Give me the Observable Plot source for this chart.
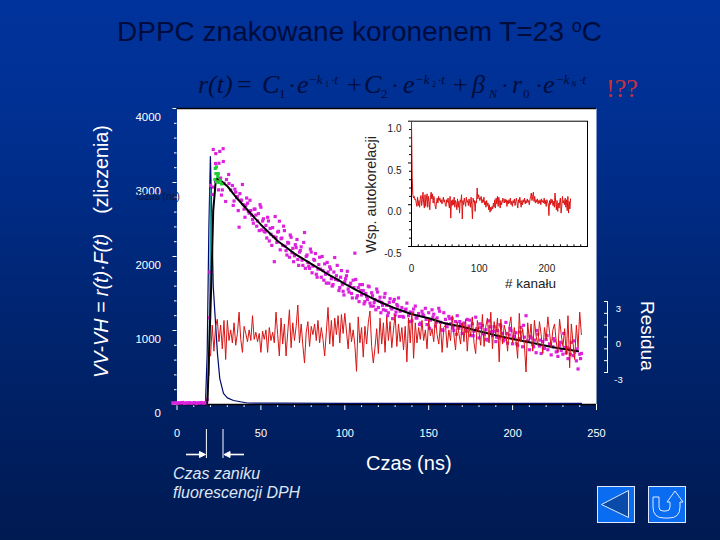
<!DOCTYPE html>
<html><head><meta charset="utf-8">
<script src="https://cdn.jsdelivr.net/npm/d3@7"></script>
<script src="https://cdn.jsdelivr.net/npm/@observablehq/plot@0.6"></script>
<style>
html,body{margin:0;padding:0;background:#001a55}
#page{position:relative;width:720px;height:540px;overflow:hidden;background:linear-gradient(180deg,#00339c 0%,#002f90 25%,#00246f 60%,#001a52 100%);font-family:"Liberation Sans",Arial,sans-serif}
#page svg{position:absolute;left:0;top:0}
</style></head><body><div id="page"></div>
<script>
// Main panel
const xMajor=[0,50,100,150,200,250];
const xMinor=[10,20,30,40,60,70,80,90,110,120,130,140,160,170,180,190,210,220,230,240];
const yMajor=[0,1000,2000,3000,4000];
const yMinor=[200,400,600,800,1200,1400,1600,1800,2200,2400,2600,2800,3200,3400,3600,3800];
const fitT=[18,18.3,20.5,21.6,23,23.5,26,30,36,45,50,60,70,80,90,95.5,100,110,115,120,130,140,150,160,170,180,185,190,200,210,224,239];
const fitC=[20,120,1680,2620,3000,3050,3027,2950,2780,2554,2430,2210,2040,1900,1760,1690,1630,1510,1450,1395,1300,1220,1165,1095,1050,990,963,935,885,840,775,720];
const irfT=[-2,16,17,18,19,19.9,20.5,21.6,22.3,24.1,25.5,27.7,30,33.7,41.8,60,100,150,200,241];
const irfC=[15,18,30,700,2400,3350,2800,1600,1340,690,350,150,90,54,20,18,16,16,15,15];
const riseT=[19,19.9,20];
const riseC=[400,2000,2900];
const baseT=[-2.5,-1.5,-0.5,0.5,1.5,2.5,3.5,4.5,5.5,6.5,7.5,8.5,9.5,10.5,11.5,12.5,13.5,14.5,15.5,16.5,17];
const baseC=[22,18,25,16,24,20,28,15,22,19,25,17,21,26,14,23,20,27,18,22,24];
const riseDotT=[18,19.4,19.6,20,21,21.8,21.6,23.1,25.5,27.5,23,25,27.6,30.8,24.7,26.5,27,29,23,26,28,29.5];
const riseDotC=[68,1171,1788,2960,2838,2937,3446,3390,3420,3457,3257,3260,3284,3108,2900,2830,2900,2743,3020,3060,2990,3040];
const decayT0=31;
const decayC=[2985,2900,2960,2750,2870,2810,2396,2760,2973,2640,
2690,2720,2585,2620,2500,2640,2560,2480,2350,2666,
2480,2340,2420,2530,2210,2300,2390,1930,2260,2330,
2477,2240,2150,2350,2080,2190,1990,2260,2110,2010,
2120,1960,2060,2130,1880,2324,2000,1920,1840,2060,
1870,1950,1760,1830,1990,1720,1810,1900,1640,1790,
1860,1700,1620,1986,1740,1680,1580,1810,1530,1660,
1740,1560,1610,1500,1680,2045,1440,1580,1620,1480,
1540,1390,1460,1600,1370,1510,1330,1420,1560,1310,
1450,1380,1280,1500,1340,1240,1430,1290,1390,1210,
1350,1440,1260,1310,1180,1280,1370,1200,1250,1130,
1290,1330,1170,1230,1100,1260,1200,1300,1080,1240,
1140,1280,1220,1060,1170,1300,1110,1010,1240,1150,
1050,1190,1090,1160,1000,1120,1200,1030,1080,960,
1100,1020,1150,1060,930,1090,990,1180,1020,900,
1040,1070,950,1010,870,1130,980,930,1050,850,
1000,900,1060,960,880,1110,830,940,1000,820,
920,970,800,890,1040,780,910,1200,860,740,
900,810,870,700,950,790,690,850,760,880,
740,820,670,780,860,710,650,800,730,680,
770,700,620,750,840,660,710,590,480,680,690];
// second read of the dense part of the cloud, half a channel later
const denseT0=33.5;
const denseC=[2690,2910,2800,2620,2850,2760,2700,2530,2790,2610,
2760,2560,2450,2640,2410,2580,2700,2360,2510,2330,
2250,2480,2380,2150,2270,2540,2190,2340,2090,2250,
2410,2140,2020,2180,2290,2050,1930,2160,2230,1880,
2080,1950,2190,1840,2020,1870,2100,1780,1960,2040,
1720,1890,1830,2000,1680,1760,1920,1640,1830,1600,
1790,1690,1880,1540,1720,1620,1480,1700,1800,1520,
1640,1440,1580,1690,1470,1390,1540,1620,1360,1500,
1420,1590,1330,1470,1380,1280,1520,1400,1240,1340,
1450,1270,1200,1380,1310,1160,1420,1250,1330,1190];
const tailT0=134.5;
const tailStep=2;
const tailC=[1190,1290,1120,1240,1170,1080,1220,1150,1030,1180,
1110,1260,1000,1090,1160,1040,950,1120,1060,990,
1140,930,1020,1090,960,880,1050,990,910,1080,
860,960,1030,900,820,980,1070,850,920,780,
1000,870,760,930,810,890,720,840,960,770,
680,860,750,620];
const greenT=[22.8,23.2,22.6,23.6,24.3,25,25.8,23.5,26.6,24.6];
const greenC=[3190,3120,3040,3010,3080,3000,3030,3210,2980,3120];
// Residuals
const resT0=20;
const resV=[-1.6,1.0,-1.2,0.9,1.5,-0.4,1.0,-1.0,1.4,-1.9,
1.4,-0.3,0.6,-0.5,1.2,-0.7,0.3,2.1,-0.2,-1.3,
0.9,0.3,-0.4,0.6,-0.3,1.8,-0.2,0.4,-0.4,0.3,
-1.3,0.5,-0.2,0.6,-1.3,0.8,-0.3,0.4,-0.5,2.1,
0.2,-1.6,1.6,-0.6,1.1,-1.6,0.4,2.3,-0.9,1.2,
-0.3,0.9,2.7,-0.5,1.1,-0.7,-2.2,0.4,1.3,-0.8,
0.9,0.2,1.1,-0.3,1.4,-0.5,0.8,-0.2,-1.6,0.4,
2.5,-0.6,1.4,-0.8,1.6,0.2,1.8,-0.5,1.9,0.3,
2.0,0.5,-1.0,1.2,-0.4,0.6,-0.7,-2.9,1.7,-0.5,
0.8,-1.7,0.9,-0.6,1.2,2.2,-0.8,-2.2,-0.9,0.7,
-1.4,1.6,-0.6,1.2,-1.3,1.7,-0.3,1.3,-0.9,0.6,
1.9,-0.8,1.1,-0.4,0.8,-1.1,0.9,-2.1,1.6,-0.5,
2.1,-1.8,1.2,-0.5,0.8,-0.2,1.4,-0.3,0.6,-1.0,
1.5,0.1,0.7,-0.4,1.6,0.2,-0.6,1.1,-1.3,0.8,
1.0,-0.9,0.6,-0.3,1.8,0.2,-1.1,1.3,0.3,-0.6,
1.2,-0.4,1.5,-1.2,0.9,0.1,1.7,-0.5,-1.4,1.4,
0.4,-0.7,1.9,-0.8,0.9,1.6,-0.5,2.1,-1.0,1.3,
0.2,1.6,-2.1,1.5,-0.6,1.0,0.4,-1.2,0.9,1.7,
-0.5,0.8,-0.2,-1.8,2.0,-0.4,0.7,-0.6,-2.96,1.2,
-0.3,1.1,-1.2,1.4,0.1,-0.7,1.3,0.2,-1.4,0.8,
-0.2,1.7,0.4,-0.9,0.6,1.1,-0.4,-1.3,1.5,0.2,
-0.8,0.7,-1.5,1.8,-2.6,1.1,-0.5,-1.9,1.0,-0.9,2.1,0.2];
const resTicks=[-3,-2,-1,0,1,2,3];
const resLabels=[-3,0,3];
// Inset: autocorrelation
const acV=[1.0,0.33,0.12,0.08,0.1,0.06,0.07,0.02,-0.02,0.09,
-0.01,0.05,-0.03,0.08,0.11,-0.01,0.06,0.15,0.02,-0.04,
0.12,-0.02,0.08,0.13,-0.03,0.1,0.04,-0.06,0.09,0.15,
0.07,0.13,0.02,0.1,0.05,-0.02,-0.05,0.04,0.08,0.02,
0.1,0.05,0.08,0.03,0.06,0.01,0.04,0.09,0.03,0.06,
0.0,-0.02,0.06,0.03,0.08,0.01,-0.04,0.1,-0.16,0.05,
-0.01,0.06,0.0,0.09,-0.03,0.05,0.02,-0.06,0.07,-0.03,
0.04,-0.1,0.06,0.03,0.12,-0.17,0.05,0.0,0.08,0.03,
-0.02,0.09,0.03,0.05,-0.01,0.07,0.02,-0.03,0.09,0.0,
-0.17,0.08,0.03,0.05,-0.08,0.04,0.02,0.2,0.07,0.12,
0.09,0.05,0.08,0.1,0.02,0.06,0.03,0.09,0.0,0.04,
-0.03,0.05,-0.01,0.02,-0.06,0.0,-0.09,-0.03,-0.07,-0.02,
-0.05,0.02,-0.03,0.06,-0.04,0.08,0.01,0.1,-0.02,0.09,
0.03,-0.04,0.05,0.0,0.03,0.08,0.05,0.02,0.07,0.03,
0.06,-0.02,0.05,0.01,0.06,0.02,0.08,0.0,0.04,-0.02,
0.05,0.02,0.07,-0.01,0.04,0.08,0.02,-0.04,0.06,0.02,
0.09,0.03,-0.03,0.05,0.0,0.06,0.03,0.08,0.01,0.05,
0.02,0.07,0.03,0.05,0.0,0.06,0.1,0.14,0.05,0.1,
0.15,0.04,0.1,0.02,0.06,0.03,0.07,0.01,0.05,0.02,
0.06,0.0,0.07,0.03,0.05,0.02,0.08,0.01,0.05,-0.02,
0.06,0.03,0.01,-0.13,0.05,0.0,0.07,0.02,0.06,-0.01,
0.04,-0.03,0.14,0.03,-0.06,0.05,-0.08,0.02,-0.04,0.04,
0.08,-0.1,-0.02,0.1,0.02,0.05,0.0,0.08,-0.03,0.06,
-0.07,0.1,-0.1,0.04,-0.05,0.07];
const acX=[0,100,200];
const acXMinor=[10,20,30,40,50,60,70,80,90,100,110,120,130,140,150,160,170,180,190,200,210,220,230,240,250];
const acY=[-0.5,0,0.5,1];
const acYMinor=[-0.4,-0.3,-0.2,-0.1,0.1,0.2,0.3,0.4,0.6,0.7,0.8,0.9];

const page=document.getElementById("page");
const FONT="Liberation Sans";
const tr={background:"transparent",overflow:"visible",fontFamily:FONT};
const W=720,H=540;
const blank=()=>"";
const sq={symbol:"square",r:1.8,fill:"#dd22dd"};

// Main chart
page.append(Plot.plot({width:W,height:H,marginLeft:176.5,marginRight:124,marginTop:108,marginBottom:136,
  style:tr,
  x:{domain:[0,250],label:null},y:{domain:[0,4000],label:null},
  marks:[
   Plot.frame({fill:"#fff",stroke:"none"}),
   Plot.axisX({ticks:xMajor,tickSize:6,tickFormat:blank,label:null,stroke:"#fff",color:"#fff"}),
   Plot.axisX({ticks:xMinor,tickSize:3,tickFormat:blank,label:null,stroke:"#fff",color:"#fff"}),
   Plot.axisY({ticks:yMajor,tickSize:4,tickFormat:blank,label:null,stroke:"#fff"}),
   Plot.axisY({ticks:yMinor,tickSize:2.5,tickFormat:blank,label:null,stroke:"#fff"}),
   Plot.axisY({ticks:yMajor,tickSize:0,tickPadding:16,dy:8.5,label:null,fill:"#fff",fontSize:11.5,tickFormat:d=>String(d)}),
   Plot.axisX({ticks:xMajor,tickSize:0,tickPadding:25,label:null,fill:"#fff",fontSize:11,tickFormat:d=>String(d)}),
   Plot.ruleY([0,4000],{stroke:"#000",strokeWidth:1.3}),
   Plot.line(irfT.map((t,i)=>[t,irfC[i]]),{x:d=>d[0],y:d=>d[1],stroke:"#000a6e",strokeWidth:1.2}),
   Plot.line(riseT.map((t,i)=>[t,riseC[i]]),{x:d=>d[0],y:d=>d[1],stroke:"#2a9aa0",strokeWidth:1.6}),
   Plot.dot(baseT.map((t,i)=>[t,baseC[i]]),{x:d=>d[0],y:d=>d[1],...sq}),
   Plot.dot(riseDotT.map((t,i)=>[t,riseDotC[i]]),{x:d=>d[0],y:d=>d[1],...sq}),
   Plot.dot(decayC,{x:(d,i)=>decayT0+i,y:d=>d,...sq}),
   Plot.dot(denseC,{x:(d,i)=>denseT0+i,y:d=>d,...sq}),
   Plot.dot(tailC,{x:(d,i)=>tailT0+i*tailStep,y:d=>d,...sq}),
   Plot.line(fitT.map((t,i)=>[t,fitC[i]]),{x:d=>d[0],y:d=>d[1],stroke:"#000",strokeWidth:2}),
   Plot.dot(greenT.map((t,i)=>[t,greenC[i]]),{x:d=>d[0],y:d=>d[1],symbol:"square",r:1.8,fill:"#22cc33"})
  ]}));

// Residuals (own scale)
const resXMax=(603-176.5)/1.678;
page.append(Plot.plot({width:W,height:H,marginLeft:176.5,marginRight:117,marginTop:301,marginBottom:168,
  style:tr,
  x:{domain:[0,resXMax],label:null,axis:null},y:{domain:[-3,3],label:null},
  marks:[
   Plot.line(resV,{x:(d,i)=>resT0+i,y:d=>d,stroke:"#d81414",strokeWidth:1}),
   Plot.ruleX([resXMax],{dx:4,stroke:"#fff"}),
   Plot.axisY({anchor:"right",ticks:resTicks,tickSize:4,tickFormat:blank,label:null,stroke:"#fff"}),
   Plot.axisY({anchor:"right",ticks:resLabels,tickSize:0,tickPadding:15,dy:7,textAnchor:"middle",label:null,fill:"#fff",fontSize:9.5,tickFormat:d=>String(d)})
  ]}));

// Inset
page.append(Plot.plot({width:W,height:H,marginLeft:411,marginRight:133,marginTop:120.7,marginBottom:294,
  style:tr,
  x:{domain:[0,260],label:null},y:{domain:[-0.5,1],label:null},
  marks:[
   Plot.frame({stroke:"#000",strokeWidth:1}),
   Plot.ruleX(acXMinor,{x:d=>d,y1:-0.5,y2:-0.48,stroke:"#000"}),
   Plot.axisY({ticks:acY,tickSize:3,tickFormat:blank,label:null,stroke:"#000"}),
   Plot.axisY({ticks:acYMinor,tickSize:2,tickFormat:blank,label:null,stroke:"#000"}),
   Plot.axisY({ticks:acY,tickSize:0,tickPadding:10,dy:7.5,label:null,fill:"#222",fontSize:10,tickFormat:d=>d.toFixed(1)}),
   Plot.axisX({ticks:acX,tickSize:0,tickPadding:18,label:null,fill:"#222",fontSize:10,tickFormat:d=>String(d)}),
   Plot.line(acV,{x:(d,i)=>i,y:d=>d,stroke:"#dc1414",strokeWidth:1})
  ]}));

// Page furniture
const deco=document.createElementNS("http://www.w3.org/2000/svg","svg");
deco.setAttribute("width",W);deco.setAttribute("height",H);
const navy="#000c3c";
const f=(x,t,fs,it,y,extra)=>`<text x="${x}" y="${y}" font-size="${fs}" ${it?'font-style="italic"':""} font-family="Liberation Serif" fill="${navy}" ${extra||""}>${t}</text>`;
deco.innerHTML=`
<text x="117" y="41" font-size="28" fill="${navy}">DPPC znakowane koronenem T=23 <tspan font-size="18" dy="-9">o</tspan><tspan dy="9">C</tspan></text>
${f(198,"r(t)",26,true,93)}${f(237,"=",26,false,93)}${f(262,"C",26,true,93)}${f(279,"1",13,false,98)}${f(288,"·",24,false,93)}${f(297,"e",26,true,93)}
${f(308,"−k",13,true,84)}${f(325,"1",8,false,87)}${f(331,"·t",13,true,84)}${f(347,"+",26,false,93)}
${f(364,"C",26,true,93)}${f(381,"2",13,false,98)}${f(391,"·",24,false,93)}${f(403,"e",26,true,93)}
${f(415,"−k",13,true,84)}${f(432,"2",8,false,87)}${f(438,"·t",13,true,84)}${f(453,"+",26,false,93)}
${f(472,"β",26,true,93)}${f(489,"N",12,true,98)}${f(501,"·",24,false,93)}${f(512,"r",26,true,93)}${f(523,"0",13,false,98)}${f(535,"·",24,false,93)}${f(543,"e",26,true,93)}
${f(555,"−k",13,true,84)}${f(571,"N",8,true,87)}${f(579,"·t",13,true,84)}
<text x="606" y="97" font-size="26" font-family="Liberation Serif" fill="#c8303c">!??</text>
<text transform="translate(108,378) rotate(-90)" font-size="19.7" fill="#fff"><tspan font-style="italic">VV-VH = r(t)·F(t)</tspan><tspan dx="20">(zliczenia)</tspan></text>
<text transform="translate(641,301) rotate(90)" font-size="19" fill="#fff">Residua</text>
<text transform="translate(376,253) rotate(-90)" font-size="14.3" fill="#222">Wsp. autokorelacji</text>
<text x="505" y="288" font-size="13.5" fill="#222"># kanału</text>
<text x="137" y="200" font-size="10" fill="#0a1a40">Czas (ns)</text>
<text x="366" y="470" font-size="20" fill="#fff">Czas (ns)</text>
<text x="173" y="479" font-size="16" font-style="italic" fill="#dfe6f5">Czas zaniku</text>
<text x="173" y="498" font-size="16" font-style="italic" fill="#dfe6f5">fluorescencji DPH</text>
<g stroke="#fff" fill="#fff">
<line x1="206.4" x2="206.4" y1="429" y2="458"/><line x1="223" x2="223" y1="429" y2="458"/>
<line x1="186" x2="200" y1="454.5" y2="454.5" stroke-width="1.6"/><path d="M205.5 454.5l-6-3v6z"/>
<line x1="244" x2="229" y1="454.5" y2="454.5" stroke-width="1.6"/><path d="M224 454.5l6-3v6z"/>
</g>
<g>
<rect x="597.5" y="486.5" width="37" height="36" fill="#0a6cf0" stroke="#dfe9ff"/>
<path d="M628.5 490.5L601.5 504.5l27 13z" fill="#0a4aa8" stroke="#dfe9ff"/>
<rect x="648.5" y="486.5" width="37" height="36" fill="#0a6cf0" stroke="#dfe9ff"/>
<path d="M653 497v10q0 11 11 11h5q11 0 11-11v-5h3l-8-11-8 11h3v5q0 4-4 4h-3q-4 0-4-4v-10z" fill="none" stroke="#dfe9ff"/>
</g>`;
page.append(deco);
</script></body></html>
